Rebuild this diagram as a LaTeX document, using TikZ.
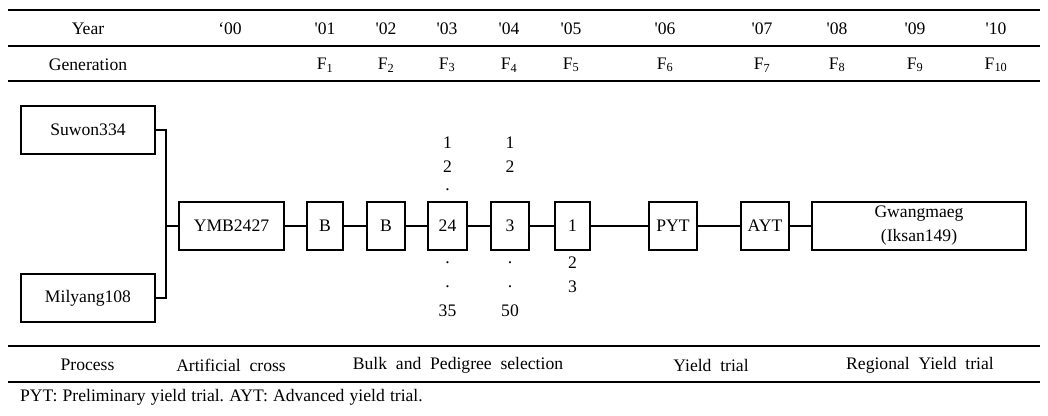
\documentclass[tikz,border=0pt]{standalone}
\usepackage{fontspec}
\setmainfont{Liberation Serif}
\newcommand{\tq}{\textquotesingle}
\newcommand{\ws}{\hspace{5.2pt}}
\tikzset{
  box/.style={draw, line width=1.2pt, inner sep=0pt, minimum height=48pt, align=center},
  lbl/.style={inner sep=0pt, anchor=center},
  rule/.style={line width=1.5pt},
  conn/.style={line width=1.2pt}
}
\begin{document}
\begin{tikzpicture}[x=1pt,y=-1pt, font=\fontsize{17.6}{24}\selectfont]
\useasboundingbox (0,0) rectangle (1048,415);
% rules
\draw[rule] (8,10) -- (1040,10);
\draw[rule] (8,46) -- (1040,46);
\draw[rule] (8,81) -- (1040,81);
\draw[rule] (8,346) -- (1040,346);
\draw[rule] (8,382) -- (1040,382);
% header rows
\node[lbl] (year) at (88,29) {Year};
\node[lbl] (y00) at (230,29) {‘00};
\node[lbl] (y01) at (325,29) {\tq01};
\node[lbl] (y02) at (386,29) {\tq02};
\node[lbl] (y03) at (447,29) {\tq03};
\node[lbl] (y04) at (509,29) {\tq04};
\node[lbl] (y05) at (571,29) {\tq05};
\node[lbl] (y06) at (665,29) {\tq06};
\node[lbl] (y07) at (762,29) {\tq07};
\node[lbl] (y08) at (837,29) {\tq08};
\node[lbl] (y09) at (915,29) {\tq09};
\node[lbl] (y10) at (996,29) {\tq10};
\node[lbl] (gen) at (88,65) {Generation};
\node[lbl] (f1) at (325,65) {F\textsubscript{1}};
\node[lbl] (f2) at (386,65) {F\textsubscript{2}};
\node[lbl] (f3) at (447,65) {F\textsubscript{3}};
\node[lbl] (f4) at (509,65) {F\textsubscript{4}};
\node[lbl] (f5) at (571,65) {F\textsubscript{5}};
\node[lbl] (f6) at (665,65) {F\textsubscript{6}};
\node[lbl] (f7) at (762,65) {F\textsubscript{7}};
\node[lbl] (f8) at (837,65) {F\textsubscript{8}};
\node[lbl] (f9) at (915,65) {F\textsubscript{9}};
\node[lbl] (f10) at (996,65) {F\textsubscript{10}};
% boxes
\node[box, minimum width=134pt] (suw) at (88,130) {Suwon334};
\node[box, minimum width=134pt] (mil) at (88,298) {Milyang108};
\node[box, minimum width=105pt] (ymb) at (231.5,226) {YMB2427};
\node[box, minimum width=36pt] (b1) at (325,226) {B};
\node[box, minimum width=38pt] (b2) at (386,226) {B};
\node[box, minimum width=39pt] (c24) at (447.5,226) {24};
\node[box, minimum width=38pt] (c3) at (510,226) {3};
\node[box, minimum width=35pt] (c1) at (572.5,226) {1};
\node[box, minimum width=48pt] (pyt) at (673,226) {PYT};
\node[box, minimum width=48pt] (ayt) at (765,226) {AYT};
\node[box, minimum width=214pt] (gw) at (919,226) {Gwangmaeg\\(Iksan149)};
% connectors
\coordinate (j) at (166,226);
\draw[conn] (suw.east) -| (j) |- (mil.east);
\draw[conn] (j) -- (ymb.west);
\draw[conn] (ymb) -- (b1);
\draw[conn] (b1) -- (b2);
\draw[conn] (b2) -- (c24);
\draw[conn] (c24) -- (c3);
\draw[conn] (c3) -- (c1);
\draw[conn] (c1) -- (pyt);
\draw[conn] (pyt) -- (ayt);
\draw[conn] (ayt) -- (gw);
% numbers
\node[lbl] (a1) at (447.5,143) {1};
\node[lbl] (a2) at (447.5,167) {2};
\node[lbl] (a3) at (447.5,190) {.};
\node[lbl] (a4) at (447.5,263) {.};
\node[lbl] (a5) at (447.5,287) {.};
\node[lbl] (a6) at (447.5,311) {35};
\node[lbl] (b1n) at (510,143) {1};
\node[lbl] (b2n) at (510,167) {2};
\node[lbl] (b4n) at (510,263) {.};
\node[lbl] (b5n) at (510,287) {.};
\node[lbl] (b6n) at (510,311) {50};
\node[lbl] (c2n) at (572.5,263) {2};
\node[lbl] (c3n) at (572.5,287) {3};
% process row
\node[lbl] (proc) at (87.5,365) {Process};
\node[lbl] (art) at (231,365) {Artificial\ \ cross};
\node[lbl] (bulk) at (458,365) {Bulk\ \ and\ \ Pedigree\ \ selection};
\node[lbl] (yt) at (711,365) {Yield\ \ trial};
\node[lbl] (ryt) at (920,365) {Regional\ \ Yield\ \ trial};
\node[lbl, anchor=west] (fn) at (20,397) {PYT:\ws Preliminary\ws yield\ws trial.\ws AYT:\ws Advanced\ws yield\ws trial.};
\end{tikzpicture}
\end{document}
